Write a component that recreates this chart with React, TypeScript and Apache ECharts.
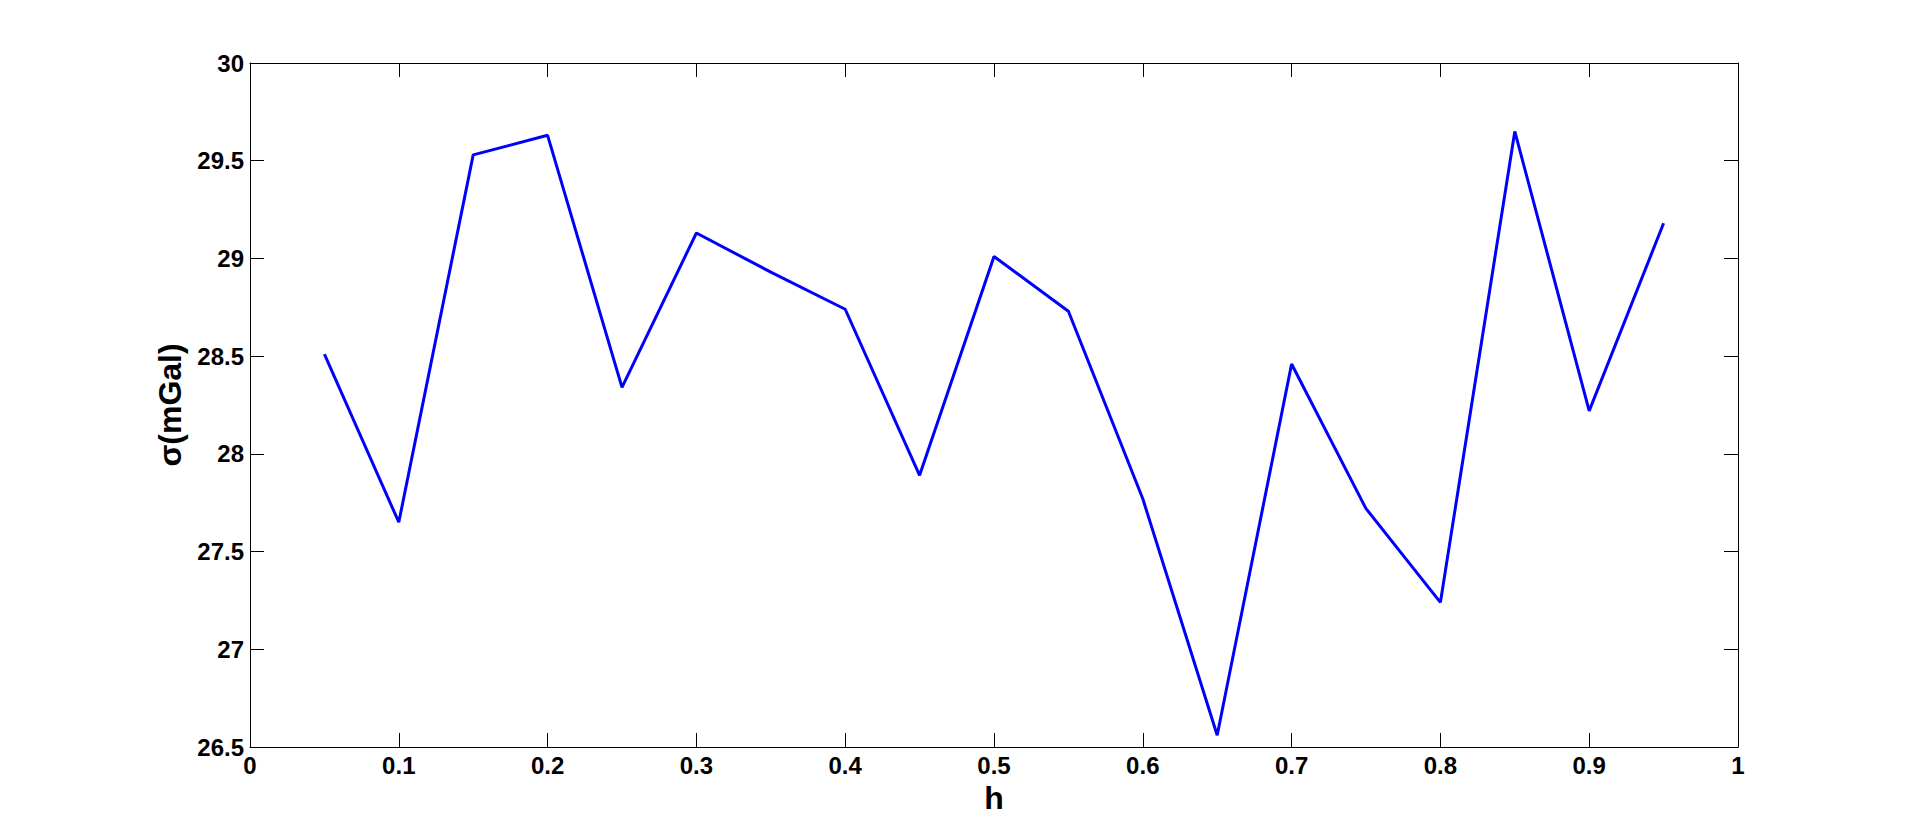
import React, { useEffect, useRef } from "react";
import * as echarts from "echarts";

const hValues = [0.05, 0.1, 0.15, 0.2, 0.25, 0.3, 0.35, 0.4, 0.45, 0.5, 0.55, 0.6, 0.65, 0.7, 0.75, 0.8, 0.85, 0.9, 0.95];
const sigmaValues = [28.51, 27.65, 29.53, 29.63, 28.34, 29.13, 28.93, 28.74, 27.89, 29.01, 28.73, 27.77, 26.56, 28.46, 27.72, 27.24, 29.65, 28.22, 29.18];
const xTitle = "h";
const yTitle = "σ(mGal)";

const FONT = "'Liberation Sans', Arial, sans-serif";

export default function App() {
  const ref = useRef<HTMLDivElement>(null);
  useEffect(() => {
    if (!ref.current) return;
    const chart = echarts.init(ref.current, null, { renderer: "svg" });
    const data = hValues.map((h, i) => [h, sigmaValues[i]]);
    const axisCommon = {
      axisLine: { show: true, onZero: false, lineStyle: { color: "#000", width: 1 } },
      axisTick: { show: true, inside: true, length: 14, lineStyle: { color: "#000", width: 1 } },
      splitLine: { show: false },
    };
    const labelStyle = { color: "#000", fontFamily: FONT, fontWeight: "bold", fontSize: 24 };
    chart.setOption({
      animation: false,
      backgroundColor: "#fff",
      grid: { left: 250, right: 182, top: 63, height: 684, containLabel: false },
      xAxis: [
        {
          type: "value", min: 0, max: 1, interval: 0.1, position: "bottom",
          ...axisCommon,
          axisLabel: { ...labelStyle, margin: 6 },
          name: xTitle, nameLocation: "middle", nameGap: 34,
          nameTextStyle: { color: "#000", fontFamily: FONT, fontWeight: "bold", fontSize: 32 },
        },
        {
          type: "value", min: 0, max: 1, interval: 0.1, position: "top",
          ...axisCommon, axisLabel: { show: false },
        },
      ],
      yAxis: [
        {
          type: "value", min: 26.5, max: 30, interval: 0.5, position: "left",
          ...axisCommon,
          axisLabel: { ...labelStyle, margin: 6 },
          name: yTitle, nameLocation: "middle", nameGap: 56, nameRotate: 90,
          nameTextStyle: { color: "#000", fontFamily: FONT, fontWeight: "bold", fontSize: 32 },
        },
        {
          type: "value", min: 26.5, max: 30, interval: 0.5, position: "right",
          ...axisCommon, axisLabel: { show: false },
        },
      ],
      series: [
        {
          type: "line",
          data,
          xAxisIndex: 0,
          yAxisIndex: 0,
          showSymbol: false,
          symbol: "none",
          lineStyle: { color: "#0000ff", width: 3 },
          itemStyle: { color: "#0000ff" },
        },
      ],
    });
    return () => chart.dispose();
  }, []);
  return (
    <div
      ref={ref}
      style={{ position: "fixed", left: 0, top: 0, width: 1920, height: 839, background: "#fff" }}
    />
  );
}
